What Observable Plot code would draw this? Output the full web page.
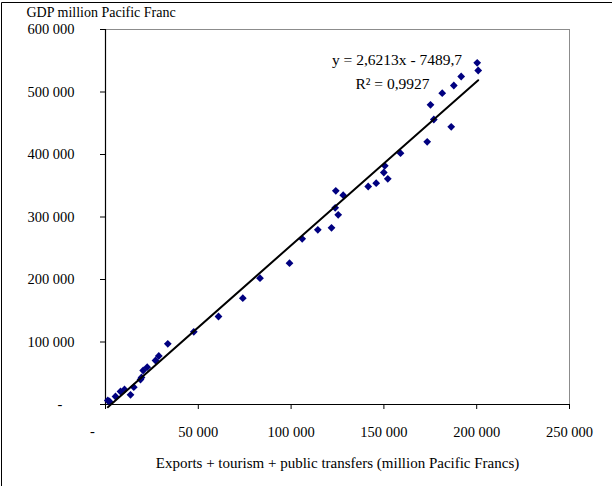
<!DOCTYPE html>
<html>
<head>
<meta charset="utf-8">
<script src="https://cdn.jsdelivr.net/npm/d3@7"></script>
<script src="https://cdn.jsdelivr.net/npm/@observablehq/plot@0.6"></script>
<style>
  html, body { margin: 0; padding: 0; background: #fff; }
  #chart svg { display: block; }
</style>
</head>
<body>
<div id="chart"></div>
<script>
// Exports + tourism + public transfers (million Pacific Francs)
const xVals = [1240, 2150, 5390, 8080, 10240, 13470, 15250, 18860, 19400, 20300,
  22470, 26940, 28720, 33570, 47580, 60880, 73980, 83250, 99140, 105980,
  114400, 121770, 124090, 128070, 123760, 125380, 141540, 145850, 150490, 149950,
  152100, 158950, 173330, 175110, 176890, 181420, 186270, 187670, 191650, 200270, 200810];
// GDP million Pacific Franc
const yVals = [6400, 4800, 12800, 20800, 24000, 15500, 27700, 40000, 43200, 54400,
  59700, 70400, 77600, 97100, 116300, 140800, 170100, 202100, 226100, 265100,
  279500, 282700, 341900, 334900, 314700, 303500, 348800, 354100, 381900, 371200,
  361100, 402100, 420300, 479500, 456000, 498100, 444300, 510400, 524800, 546700, 534400];

const xTicks = [0, 50000, 100000, 150000, 200000, 250000];
const yTicks = [0, 100000, 200000, 300000, 400000, 500000, 600000];

const slope = 2.6213;
const intercept = -7489.7;
const equationLabel = "y = 2,6213x - 7489,7";
const r2Label = "R² = 0,9927";
const yTitle = "GDP million Pacific Franc";
const xTitle = "Exports + tourism + public transfers (million Pacific Francs)";

const points = xVals.map((x, i) => ({x, y: yVals[i]}));
const xExt = d3.extent(xVals);
const trend = xExt.map(x => ({x, y: slope * x + intercept}));

const fmt = d => d === 0 ? "" : d3.format(",")(d).replace(/,/g, " ");
const font = "Liberation Serif, Times New Roman, serif";

const chart = Plot.plot({
  width: 612,
  height: 486,
  marginLeft: 105,
  marginRight: 43,
  marginTop: 29,
  marginBottom: 82,
  style: {fontFamily: font, fontSize: "14.5px", color: "#000", background: "#fff", overflow: "visible"},
  x: {domain: [0, 250000]},
  y: {domain: [0, 600000]},
  marks: [
    Plot.frame({stroke: "#8c8c8c"}),
    Plot.axisX({ticks: xTicks, tickSize: 5, tickPadding: 17, tickFormat: fmt, label: null, fontSize: 14.5}),
    Plot.axisY({ticks: yTicks, tickSize: 5, tickPadding: 26, tickFormat: fmt, label: null, fontSize: 14.5}),
    Plot.text(["-"], {y: [0], frameAnchor: "left", dx: -48, fontSize: 14.5, lineAnchor: "middle"}),
    Plot.text(["-"], {x: [0], frameAnchor: "bottom", dx: -13, dy: 27, fontSize: 14.5, lineAnchor: "middle"}),
    Plot.ruleX([0], {stroke: "#000", strokeWidth: 1.2}),
    Plot.ruleY([0], {stroke: "#000", strokeWidth: 1.2}),
    Plot.dot(points, {x: "x", y: "y", symbol: "diamond2", r: 3.5, fill: "#000080", stroke: "none"}),
    Plot.line(trend, {x: "x", y: "y", stroke: "#000", strokeWidth: 2}),
    Plot.text([equationLabel], {frameAnchor: "top-left", dx: 291.5, dy: 31, textAnchor: "middle", lineAnchor: "middle", fontSize: 15.5}),
    Plot.text([r2Label], {frameAnchor: "top-left", dx: 287, dy: 55, textAnchor: "middle", lineAnchor: "middle", fontSize: 15.5}),
    Plot.text([yTitle], {frameAnchor: "top-left", dx: -79, dy: -16.5, textAnchor: "start", lineAnchor: "middle", fontSize: 14}),
    Plot.text([xTitle], {frameAnchor: "bottom", dy: 59, textAnchor: "middle", lineAnchor: "middle", fontSize: 15})
  ]
});

d3.select(chart).append("path")
  .attr("d", "M1.5,486V2.5H612")
  .attr("fill", "none")
  .attr("stroke", "#000")
  .attr("stroke-width", 1);

document.getElementById("chart").appendChild(chart);
</script>
</body>
</html>
